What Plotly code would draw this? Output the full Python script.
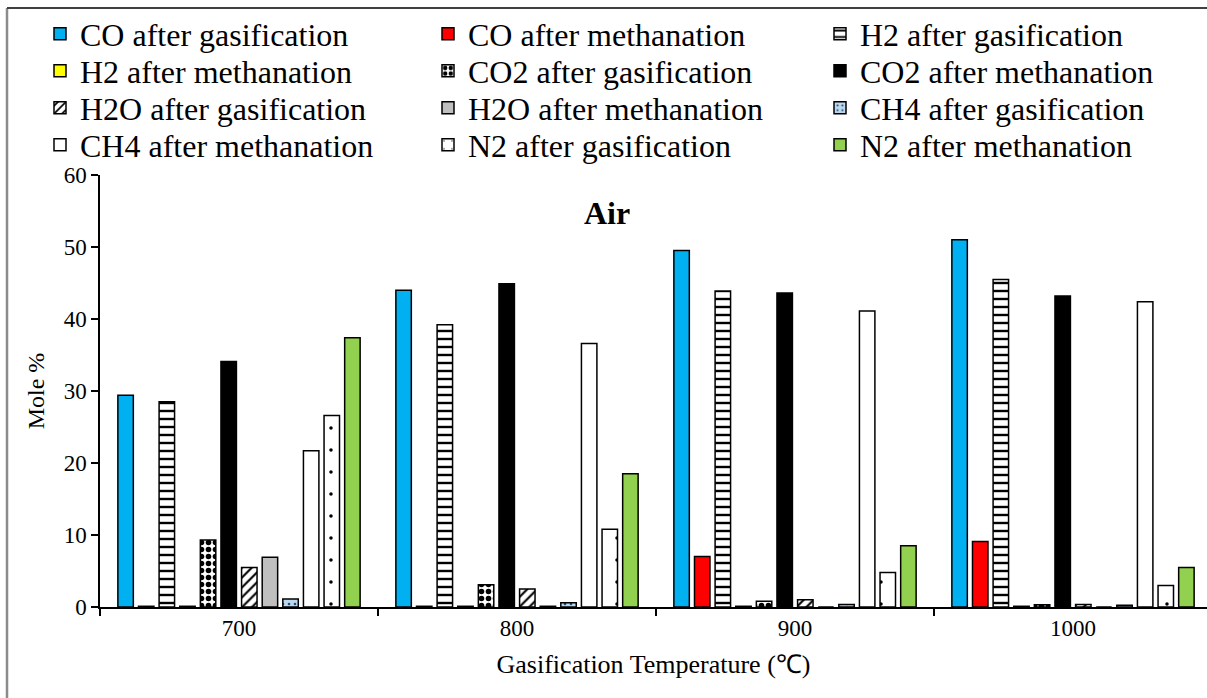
import plotly.graph_objects as go

temps = ["700", "800", "900", "1000"]

co_gas = [29.4, 44.0, 49.5, 51.0]
co_meth = [0.1, 0.1, 7.0, 9.1]
h2_gas = [28.5, 39.2, 43.9, 45.5]
h2_meth = [0.1, 0.1, 0.1, 0.1]
co2_gas = [9.3, 3.1, 0.8, 0.3]
co2_meth = [34.1, 44.9, 43.6, 43.2]
h2o_gas = [5.5, 2.5, 1.0, 0.35]
h2o_meth = [6.9, 0.1, 0.0, 0.0]
ch4_gas = [1.1, 0.6, 0.35, 0.25]
ch4_meth = [21.7, 36.6, 41.1, 42.4]
n2_gas = [26.6, 10.8, 4.8, 3.0]
n2_meth = [37.4, 18.5, 8.5, 5.5]

FONT = "Liberation Serif"

series = [
    ("CO after gasification", co_gas, dict(color="#00B0F0")),
    ("CO after methanation", co_meth, dict(color="#FF0000")),
    ("H2 after gasification", h2_gas, dict(color="white", pattern=dict(shape="-", fgcolor="black", bgcolor="white", size=8, solidity=0.3, fillmode="replace"))),
    ("H2 after methanation", h2_meth, dict(color="#FFFF00")),
    ("CO2 after gasification", co2_gas, dict(color="white", pattern=dict(shape=".", fgcolor="black", bgcolor="white", size=7, solidity=0.5, fillmode="replace"))),
    ("CO2 after methanation", co2_meth, dict(color="black")),
    ("H2O after gasification", h2o_gas, dict(color="white", pattern=dict(shape="/", fgcolor="black", bgcolor="white", size=7, solidity=0.3, fillmode="replace"))),
    ("H2O after methanation", h2o_meth, dict(color="#BFBFBF")),
    ("CH4 after gasification", ch4_gas, dict(color="#BDD7EE", pattern=dict(shape=".", fgcolor="#1F4E79", bgcolor="#BDD7EE", size=6, solidity=0.15, fillmode="replace"))),
    ("CH4 after methanation", ch4_meth, dict(color="white")),
    ("N2 after gasification", n2_gas, dict(color="white", pattern=dict(shape=".", fgcolor="black", bgcolor="white", size=22, solidity=0.02, fillmode="replace"))),
    ("N2 after methanation", n2_meth, dict(color="#92D050")),
]

plot_left, plot_right, plot_top, plot_bottom = 100, 1207, 175, 607
W, H = 1207, 698
pw = plot_right - plot_left
ph = plot_bottom - plot_top


def px2x(px):
    return (px - plot_left) / pw


def py2y(py):
    return (plot_bottom - py) / ph


legend_names = ["legend"] + ["legend%d" % k for k in range(2, 13)]
row_y = [34, 71, 108, 145]
col_x = [40, 428, 820]

fig = go.Figure()
for i, (name, vals, mk) in enumerate(series):
    mk = dict(mk)
    mk["line"] = dict(color="black", width=1.5)
    fig.add_trace(go.Bar(
        name=name, x=temps, y=vals, marker=mk,
        legend=legend_names[i],
    ))

legend_cfg = {}
for i, ln in enumerate(legend_names):
    legend_cfg[ln] = dict(
        orientation="v", x=px2x(col_x[i % 3]), xanchor="left",
        y=py2y(row_y[i // 3]), yanchor="middle",
        font=dict(family=FONT, size=32, color="black"),
        bgcolor="rgba(0,0,0,0)", borderwidth=0, tracegroupgap=0,
    )

fig.update_layout(
    width=W, height=H,
    margin=dict(l=plot_left, r=W - plot_right, t=plot_top, b=H - plot_bottom),
    paper_bgcolor="white", plot_bgcolor="white",
    barmode="group", bargap=0.11, bargroupgap=0.25,
    font=dict(family=FONT, color="black"),
    showlegend=True,
    **legend_cfg,
)

cat_w = 278
fig.update_xaxes(
    range=[-0.5, -0.5 + pw / cat_w],
    showline=True, linecolor="black", linewidth=1.5,
    ticks="outside", tickson="boundaries", ticklen=7, tickcolor="black", tickwidth=1.5,
    tickfont=dict(family=FONT, size=23, color="black"),
    title=dict(text="Gasification Temperature (℃)", font=dict(family=FONT, size=26, color="black"), standoff=14),
    showgrid=False, zeroline=False,
)
fig.update_yaxes(
    range=[0, 60], dtick=10,
    showline=True, linecolor="black", linewidth=1.5,
    ticks="outside", ticklen=7, tickcolor="black", tickwidth=1.5,
    tickfont=dict(family=FONT, size=23, color="black"),
    title=dict(text="Mole %", font=dict(family=FONT, size=24, color="black"), standoff=12),
    showgrid=False, zeroline=False,
)

fig.add_annotation(
    text="<b>Air</b>", x=px2x(607), y=py2y(213), xref="paper", yref="paper",
    showarrow=False, font=dict(family=FONT, size=32, color="black"),
    xanchor="center", yanchor="middle",
)

fig.add_shape(type="line", xref="paper", yref="paper",
              x0=px2x(7), x1=px2x(7), y0=py2y(8), y1=py2y(720),
              line=dict(color="#8c8c8c", width=2.5))
fig.add_shape(type="line", xref="paper", yref="paper",
              x0=px2x(7), x1=px2x(1230), y0=py2y(8), y1=py2y(8),
              line=dict(color="#404040", width=2))

fig.write_html("out.html")
